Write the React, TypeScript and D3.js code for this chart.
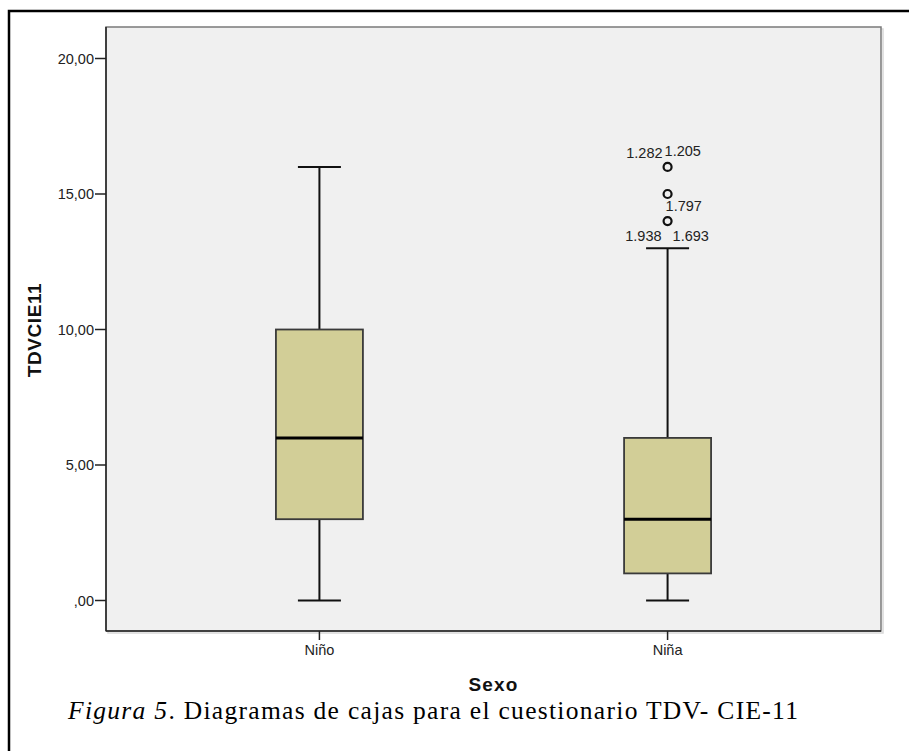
import React from 'react'
import { scaleLinear, scalePoint } from 'd3'

// categories and the five-number summaries
const categories = ['Niño', 'Niña']
const mins = [0, 0]
const q1s = [3, 1]
const medians = [6, 3]
const q3s = [10, 6]
const maxs = [16, 13]

// outliers (only Niña has them)
const outlierValues = [16, 15, 14]
const outlierCategory = ['Niña', 'Niña', 'Niña']
const outlierLabels = [
  ['1.282', '1.205'],
  ['1.797'],
  ['1.938', '1.693'],
]

const yTicks = [0, 5, 10, 15, 20]
const yTickLabels = [',00', '5,00', '10,00', '15,00', '20,00']

const W = 909
const H = 751
const plot = { left: 106, top: 27, right: 881, bottom: 631 }

// where each outlier label sits relative to its circle: [dx, dy, anchor]
const labelLayout: [number, number, string][][] = [
  [[-5, -9, 'end'], [-3, -11, 'start']],
  [[-2, 17, 'start']],
  [[-6, 20, 'end'], [5, 20, 'start']],
]

function App() {
  const yScale = scaleLinear().domain([0, 20]).range([600.5, 58.5])
  const xScale = scalePoint().domain(categories).range([plot.left, plot.right]).padding(0.613)
  const boxW = 87
  const capW = 43
  const small = { fontFamily: 'Liberation Sans, Arial, sans-serif', fontSize: 14.5, fill: '#222' }
  const title = { fontFamily: 'Liberation Sans, Arial, sans-serif', fontWeight: 'bold' as const, fontSize: 19, fill: '#111' }

  return (
    <svg width={W} height={H} style={{ position: 'absolute', left: 0, top: 0, background: '#fff' }}>
      {/* outer frame, cut off on the right and bottom */}
      <rect x={9} y={11} width={W + 20} height={H + 20} fill="none" stroke="#000" strokeWidth={2.5} />

      {/* plot area */}
      <rect x={plot.left + 2} y={plot.top + 2} width={plot.right - plot.left} height={plot.bottom - plot.top} fill="none" stroke="#d8d8d8" strokeWidth={1.5} />
      <rect x={plot.left} y={plot.top} width={plot.right - plot.left} height={plot.bottom - plot.top} fill="#f0f0f0" stroke="#7a7a7a" strokeWidth={1.5} />
      <line x1={plot.left} x2={plot.left} y1={plot.top} y2={plot.bottom} stroke="#222" strokeWidth={1.5} />
      <line x1={plot.left} x2={plot.right} y1={plot.bottom} y2={plot.bottom} stroke="#222" strokeWidth={1.5} />

      {/* y axis */}
      {yTicks.map((t, i) => (
        <g key={t}>
          <line x1={plot.left - 11} x2={plot.left} y1={yScale(t)} y2={yScale(t)} stroke="#222" strokeWidth={1.5} />
          <text x={plot.left - 12} y={yScale(t) + 5} textAnchor="end" style={small}>{yTickLabels[i]}</text>
        </g>
      ))}
      <text transform="translate(41,330) rotate(-90)" textAnchor="middle" style={{ ...title, letterSpacing: 0.6 }}>TDVCIE11</text>

      {/* x axis */}
      {categories.map(c => (
        <g key={c}>
          <line x1={xScale(c)} x2={xScale(c)} y1={plot.bottom} y2={plot.bottom + 9} stroke="#222" strokeWidth={1.5} />
          <text x={xScale(c)} y={655} textAnchor="middle" style={small}>{c}</text>
        </g>
      ))}
      <text x={(plot.left + plot.right) / 2} y={691} textAnchor="middle" style={{ ...title, letterSpacing: 1.2 }}>Sexo</text>

      {/* boxes */}
      {categories.map((c, i) => {
        const x = xScale(c) as number
        return (
          <g key={c}>
            <line x1={x} x2={x} y1={yScale(maxs[i])} y2={yScale(q3s[i])} stroke="#111" strokeWidth={2} />
            <line x1={x} x2={x} y1={yScale(q1s[i])} y2={yScale(mins[i])} stroke="#111" strokeWidth={2} />
            <line x1={x - capW / 2} x2={x + capW / 2} y1={yScale(maxs[i])} y2={yScale(maxs[i])} stroke="#111" strokeWidth={2} />
            <line x1={x - capW / 2} x2={x + capW / 2} y1={yScale(mins[i])} y2={yScale(mins[i])} stroke="#111" strokeWidth={2} />
            <rect x={x - boxW / 2} y={yScale(q3s[i])} width={boxW} height={yScale(q1s[i]) - yScale(q3s[i])}
              fill="#d2ce97" stroke="#3a3a3a" strokeWidth={1.8} />
            <line x1={x - boxW / 2} x2={x + boxW / 2} y1={yScale(medians[i])} y2={yScale(medians[i])} stroke="#000" strokeWidth={3} />
          </g>
        )
      })}

      {/* outliers */}
      {outlierValues.map((v, i) => {
        const x = xScale(outlierCategory[i]) as number
        const y = yScale(v)
        return (
          <g key={i}>
            <circle cx={x} cy={y} r={4} fill="none" stroke="#111" strokeWidth={2.2} />
            {outlierLabels[i].map((lab, j) => {
              const [dx, dy, anchor] = labelLayout[i][j]
              return <text key={lab} x={x + dx} y={y + dy} textAnchor={anchor as any} style={small}>{lab}</text>
            })}
          </g>
        )
      })}

      {/* caption */}
      <text x={68} y={719} style={{ fontFamily: 'Liberation Serif, Times New Roman, serif', fontSize: 25.5, fill: '#000', letterSpacing: 1.3 }}>
        <tspan fontStyle="italic">Figura 5</tspan>
        <tspan>. Diagramas de cajas para el cuestionario TDV- CIE-11</tspan>
      </text>
    </svg>
  )
}

export default App
